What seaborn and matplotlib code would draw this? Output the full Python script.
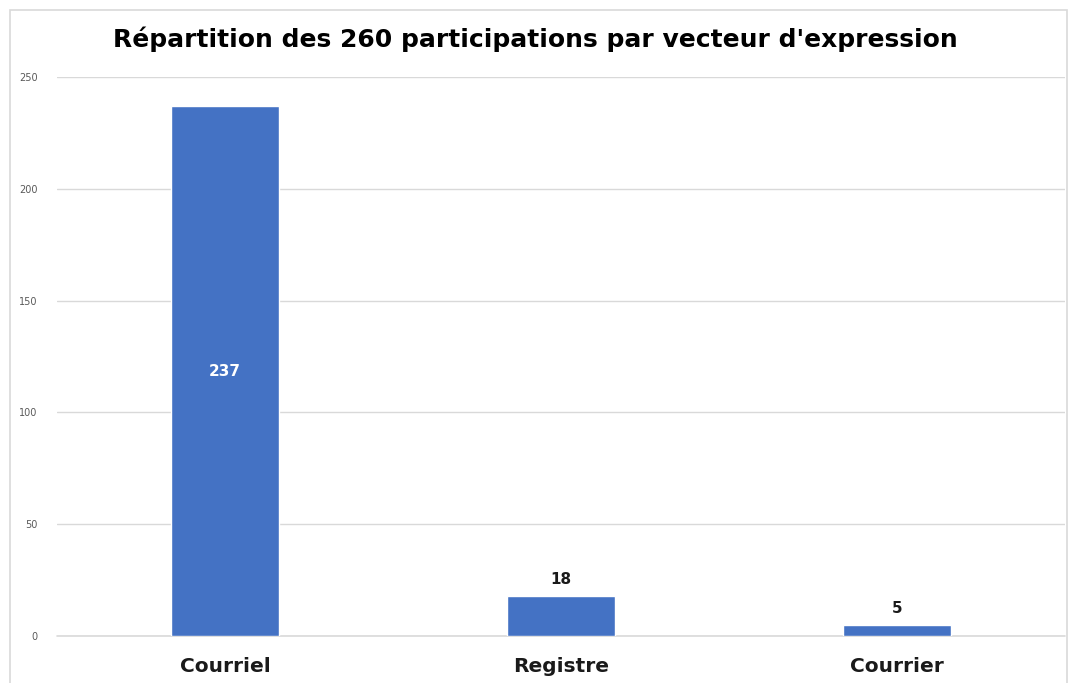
import matplotlib
matplotlib.use("Agg")
import matplotlib.pyplot as plt
import seaborn as sns
from matplotlib.patches import Rectangle

# données
categories = ["Courriel", "Registre", "Courrier"]
values = [237, 18, 5]
yticks = [0, 50, 100, 150, 200, 250]

sns.set_theme(style="white")
plt.rcParams['font.family'] = ['DejaVu Sans']

fig = plt.figure(figsize=(10.7, 6.83), dpi=100)
ax = fig.add_axes([0.0533, 0.0688, 0.942, 0.8185])

sns.barplot(x=categories, y=values, color="#4472C4", width=0.32,
            saturation=1, ax=ax, zorder=3)

ax.set_ylim(0, 250)
ax.set_yticks(yticks)
ax.set_yticklabels([str(t) for t in yticks], fontsize=7, color="#595959")
ax.yaxis.grid(True, color="#D9D9D9", linewidth=1, zorder=0)
ax.axhline(0, color="#D9D9D9", linewidth=1.2, zorder=2, clip_on=False)
ax.set_axisbelow(True)
for s in ax.spines.values():
    s.set_visible(False)
ax.tick_params(axis="y", length=0, pad=14)
ax.tick_params(axis="x", length=0, pad=15)
for lbl in ax.get_xticklabels():
    lbl.set_fontsize(14.5)
    lbl.set_fontweight("bold")
    lbl.set_color("#1a1a1a")
ax.set_xlabel("")
ax.set_ylabel("")

# étiquettes de valeurs
for i, v in enumerate(values):
    if v > 100:
        ax.text(i, v / 2, str(v), ha="center", va="center", color="white",
                fontsize=11, fontweight="bold", zorder=4)
    else:
        ax.text(i, v + 4, str(v), ha="center", va="bottom", color="#1a1a1a",
                fontsize=11, fontweight="bold", zorder=4)

fig.text(0.5, 0.942, "Répartition des 260 participations par vecteur d'expression",
         ha="center", va="center", fontsize=18, fontweight="bold", color="black")

# cadre
fig.patches.append(Rectangle((10 / 1070, -0.01), 1057 / 1070, 1 - 10 / 683 + 0.01,
                             transform=fig.transFigure, fill=False,
                             edgecolor="#D9D9D9", linewidth=1.2))

fig.savefig("out.png", dpi=100)
